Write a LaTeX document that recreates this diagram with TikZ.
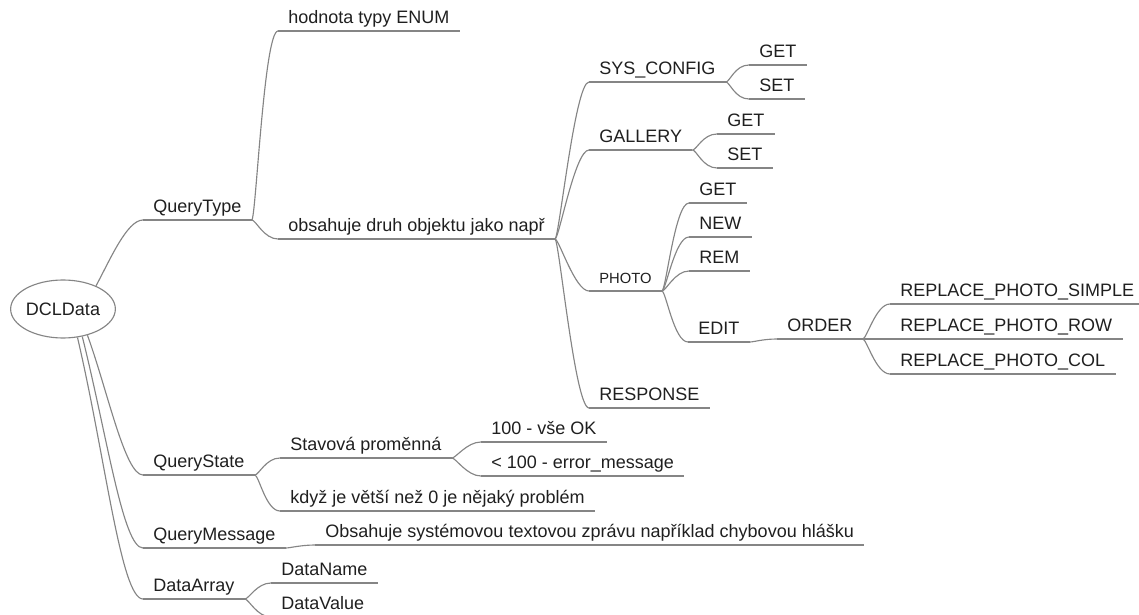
\documentclass[tikz,border=0pt]{standalone}
\usepackage{fontspec}
\setmainfont{Liberation Sans}
\usetikzlibrary{shapes.geometric}

\begin{document}
\begin{tikzpicture}[
  x=0.02cm, y=-0.02cm,
  line/.style={draw=black!48, line width=0.65pt},
  topic/.style={anchor=south west, inner xsep=0.2cm, inner ysep=0.06cm, text depth=0.09cm,
    font=\fontsize{10.25}{12}\selectfont, text=black!88,
    append after command={(\tikzlastnode.south west) edge[line] (\tikzlastnode.south east)}},
  small/.style={font=\fontsize{8.4}{10}\selectfont},
  fork/.style={line, to path={.. controls +(4,0) and +(-14,0) .. (\tikztotarget)}}
]
\useasboundingbox (0,0) rectangle (1139,615);

% Root
\node[ellipse, draw=black!48, line width=0.65pt, fill=white, minimum width=2.04cm, minimum height=1.16cm,
  inner sep=0pt, font=\fontsize{10.25}{12}\selectfont, text=black!88] (root) at (63,309) {DCLData};

% Main branches
\node[topic] (qtype)  at (143,220) {QueryType};
\node[topic] (qstate) at (143,475) {QueryState};
\node[topic] (qmsg)   at (143,548) {QueryMessage};
\node[topic] (darray) at (143,599) {DataArray};

% QueryType
\node[topic] (enum) at (278,31) {hodnota typy ENUM};
\node[topic] (kind) at (278,239) {obsahuje druh objektu jako např};
\node[topic] (sys) at (589,82) {SYS\_CONFIG};
\node[topic] (sysget) at (749,65) {GET};
\node[topic] (sysset) at (749,99) {SET};
\node[topic] (gal) at (589,150) {GALLERY};
\node[topic] (galget) at (717,134) {GET};
\node[topic] (galset) at (717,168) {SET};
\node[topic, small] (photo) at (589,291) {PHOTO};
\node[topic] (pget) at (689,203) {GET};
\node[topic] (pnew) at (689,237) {NEW};
\node[topic] (prem) at (689,271) {REM};
\node[topic] (edit) at (688,342) {EDIT};
\node[topic] (order) at (777,339) {ORDER};
\node[topic] (simple) at (890,304) {REPLACE\_PHOTO\_SIMPLE};
\node[topic] (row) at (890,339) {REPLACE\_PHOTO\_ROW};
\node[topic] (col) at (890,374) {REPLACE\_PHOTO\_COL};
\node[topic] (resp) at (589,408) {RESPONSE};

% QueryState
\node[topic] (stav) at (280,458) {Stavová proměnná};
\node[topic] (ok) at (481,442) {100 - vše OK};
\node[topic] (err) at (481,476) {< 100 - error\_message};
\node[topic] (kdyz) at (280,511) {když je větší než 0 je nějaký problém};

% QueryMessage
\node[topic] (msg) at (315,545) {Obsahuje systémovou textovou zprávu například chybovou hlášku};

% DataArray
\node[topic] (dname) at (271,583) {DataName};
\node[topic] (dvalue) at (271,617) {DataValue};

% Edges from root
\draw[line] (root.35) .. controls +(14,-26) and +(-16,0) .. (qtype.south west);
\draw[line] (root.-47) .. controls +(20,55) and +(-18,0) .. (qstate.south west);
\draw[line] (root.-55) .. controls +(25,100) and +(-20,0) .. (qmsg.south west);
\draw[line] (root.-63) .. controls +(28,120) and +(-22,0) .. (darray.south west);

% Forks
\draw[fork] (qtype.south east) to (enum.south west);
\draw[fork] (qtype.south east) to (kind.south west);
\draw[fork] (kind.south east) to (sys.south west);
\draw[fork] (kind.south east) to (gal.south west);
\draw[fork] (kind.south east) to (photo.south west);
\draw[fork] (kind.south east) to (resp.south west);
\draw[fork] (sys.south east) to (sysget.south west);
\draw[fork] (sys.south east) to (sysset.south west);
\draw[fork] (gal.south east) to (galget.south west);
\draw[fork] (gal.south east) to (galset.south west);
\draw[fork] (photo.south east) to (pget.south west);
\draw[fork] (photo.south east) to (pnew.south west);
\draw[fork] (photo.south east) to (prem.south west);
\draw[fork] (photo.south east) to (edit.south west);
\draw[fork] (edit.south east) to (order.south west);
\draw[fork] (order.south east) to (simple.south west);
\draw[fork] (order.south east) to (row.south west);
\draw[fork] (order.south east) to (col.south west);
\draw[fork] (qstate.south east) to (stav.south west);
\draw[fork] (qstate.south east) to (kdyz.south west);
\draw[fork] (stav.south east) to (ok.south west);
\draw[fork] (stav.south east) to (err.south west);
\draw[fork] (qmsg.south east) to (msg.south west);
\draw[fork] (darray.south east) to (dname.south west);
\draw[fork] (darray.south east) to (dvalue.south west);

\end{tikzpicture}
\end{document}
